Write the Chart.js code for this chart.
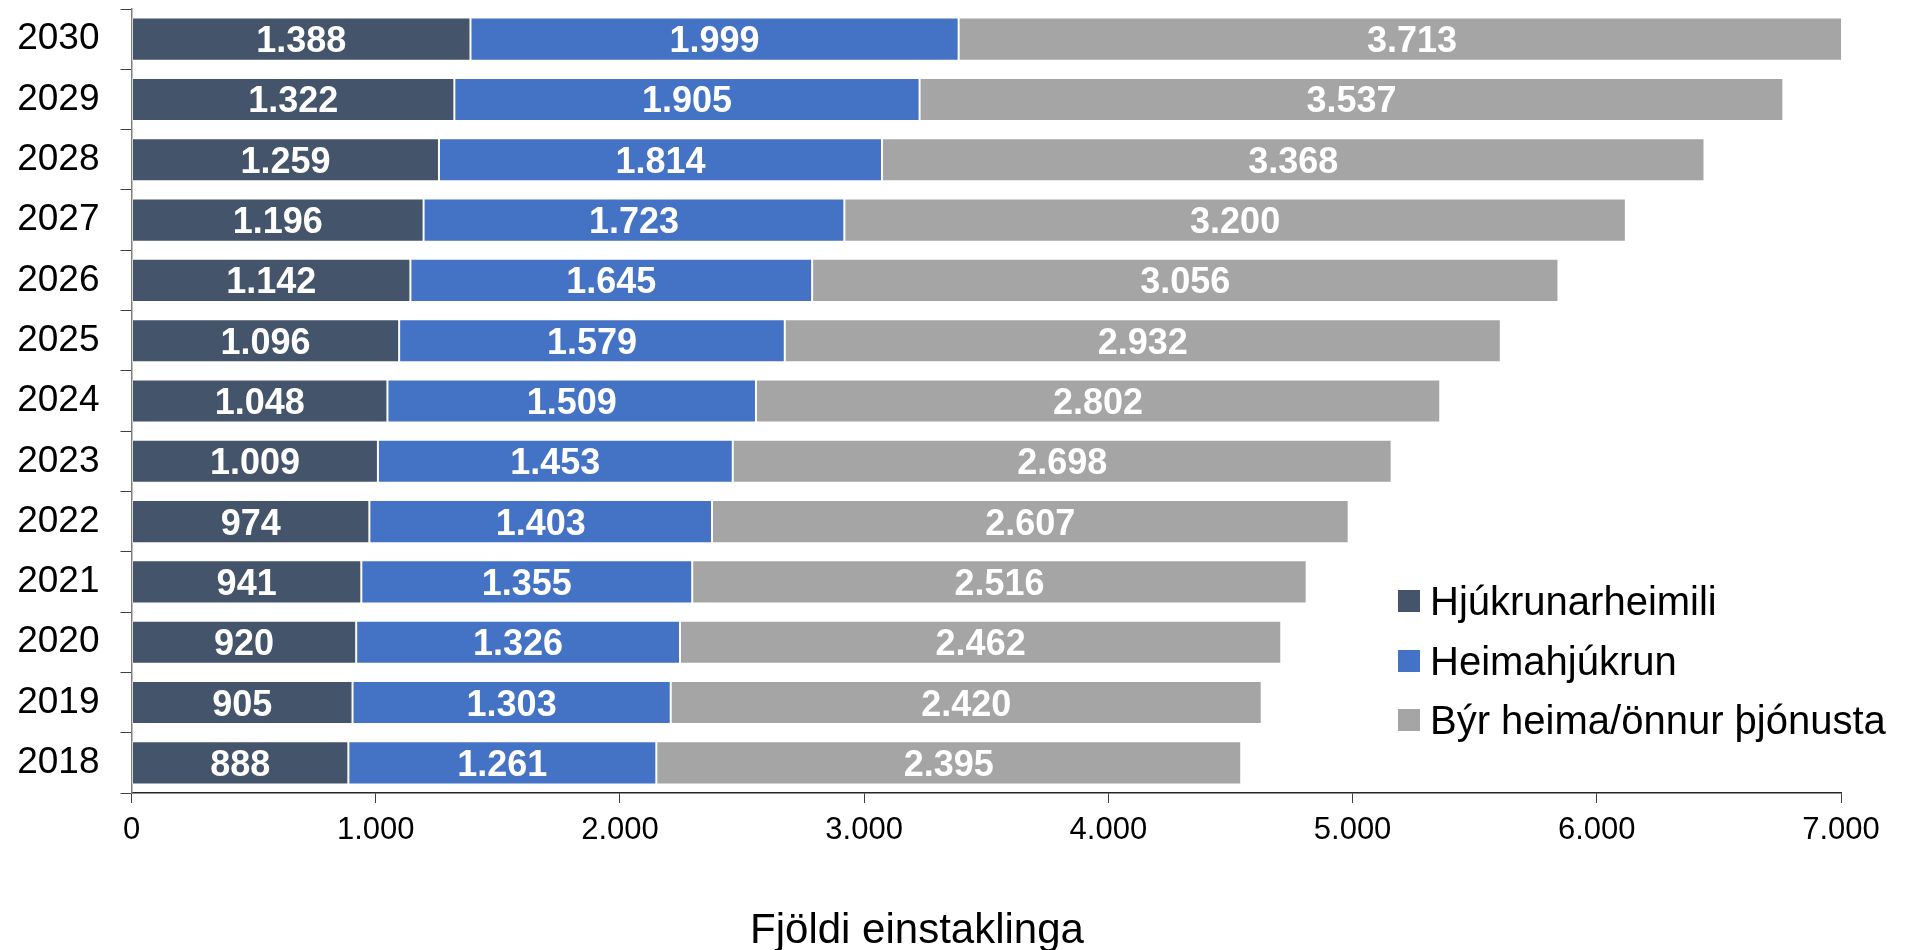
<!DOCTYPE html>
<html>
<head>
<meta charset="utf-8">
<script src="https://cdn.jsdelivr.net/npm/chart.js@4.4.1/dist/chart.umd.min.js"></script>
<style>
    html, body { margin: 0; padding: 0; background: #fff; }
    #wrap { width: 1926px; height: 950px; }
</style>
</head>
<body>
<div id="wrap"><canvas id="mainChart" width="1926" height="950"></canvas></div>
<script>
const years = ['2030', '2029', '2028', '2027', '2026', '2025', '2024', '2023', '2022', '2021', '2020', '2019', '2018'];
const hjukrunarheimili = [1388, 1322, 1259, 1196, 1142, 1096, 1048, 1009, 974, 941, 920, 905, 888];
const heimahjukrun = [1999, 1905, 1814, 1723, 1645, 1579, 1509, 1453, 1403, 1355, 1326, 1303, 1261];
const byrHeima = [3713, 3537, 3368, 3200, 3056, 2932, 2802, 2698, 2607, 2516, 2462, 2420, 2395];
const xTicks = [0, 1000, 2000, 3000, 4000, 5000, 6000, 7000];
const seriesNames = ['Hjúkrunarheimili', 'Heimahjúkrun', 'Býr heima/önnur þjónusta'];
const axisTitle = 'Fjöldi einstaklinga';

const colors = ['#44546A', '#4472C4', '#A5A5A5'];
const FONT = 'Arial, "Liberation Sans", sans-serif';

function fmt(n) {
    return String(n).replace(/\B(?=(\d{3})+(?!\d))/g, '.');
}

// white numbers in the middle of each segment
const segmentLabels = {
    id: 'segmentLabels',
    afterDatasetsDraw(chart) {
        const ctx = chart.ctx;
        ctx.save();
        ctx.font = 'bold 36px ' + FONT;
        ctx.fillStyle = '#ffffff';
        ctx.textAlign = 'center';
        ctx.textBaseline = 'alphabetic';
        chart.data.datasets.forEach((ds, i) => {
            chart.getDatasetMeta(i).data.forEach((bar, j) => {
                const cx = (bar.x + bar.base) / 2;
                ctx.fillText(fmt(ds.data[j]), cx, bar.y + 13);
            });
        });
        ctx.restore();
    }
};

// legend box inside the plot + axis title under the chart
const extras = {
    id: 'extras',
    afterDraw(chart) {
        const ctx = chart.ctx;
        ctx.save();
        ctx.font = '40px ' + FONT;
        ctx.textAlign = 'left';
        ctx.textBaseline = 'alphabetic';
        const rows = [601, 661, 720];
        seriesNames.forEach((name, i) => {
            ctx.fillStyle = colors[i];
            ctx.fillRect(1398, rows[i] - 11, 22, 22);
            ctx.fillStyle = '#000';
            ctx.fillText(name, 1430, rows[i] + 14);
        });
        ctx.font = '42px ' + FONT;
        ctx.textAlign = 'center';
        ctx.fillText(axisTitle, 917, 943);
        ctx.restore();
    }
};

const ctx = document.getElementById('mainChart').getContext('2d');
new Chart(ctx, {
    type: 'bar',
    data: {
        labels: years,
        datasets: [hjukrunarheimili, heimahjukrun, byrHeima].map((d, i) => ({
            label: seriesNames[i],
            data: d,
            backgroundColor: colors[i],
            borderColor: 'rgba(255,255,255,0.35)',
            borderWidth: 1,
            borderSkipped: false,
            categoryPercentage: 1,
            barPercentage: 0.715
        }))
    },
    options: {
        indexAxis: 'y',
        responsive: false,
        animation: false,
        devicePixelRatio: 1,
        layout: { padding: { top: 9, right: 85, left: 0, bottom: 0 } },
        plugins: { legend: { display: false }, tooltip: { enabled: false } },
        scales: {
            x: {
                stacked: true,
                min: 0,
                max: 7000,
                afterBuildTicks: s => { s.ticks = xTicks.map(v => ({ value: v })); },
                ticks: {
                    color: '#000',
                    font: { family: FONT, size: 31 },
                    padding: 9,
                    maxRotation: 0,
                    callback: v => fmt(v)
                },
                grid: { drawOnChartArea: false, tickLength: 10, color: '#404040' },
                border: { color: '#262626', width: 1.5 },
                afterFit: s => { s.height = 157; s.paddingLeft = 0; s.paddingRight = 0; }
            },
            y: {
                stacked: true,
                ticks: {
                    color: '#000',
                    font: { family: FONT, size: 37 },
                    padding: 21
                },
                grid: { drawOnChartArea: false, tickLength: 11, color: '#404040', offset: true },
                border: { color: '#7f7f7f', width: 1.5 },
                afterFit: s => { s.width = 131.5; s.paddingTop = 0; s.paddingBottom = 0; }
            }
        }
    },
    plugins: [segmentLabels, extras]
});
</script>
</body>
</html>
